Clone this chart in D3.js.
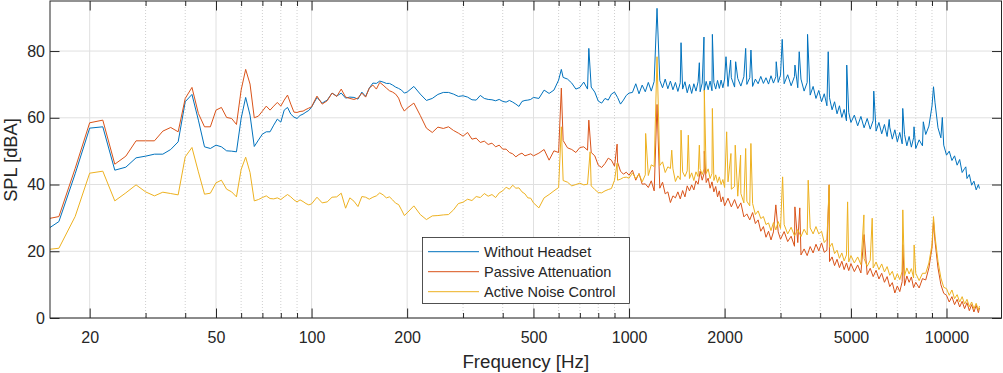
<!DOCTYPE html>
<html>
<head>
  <meta charset="utf-8">
  <title>SPL spectrum</title>
  <script src="https://cdn.jsdelivr.net/npm/d3@7"></script>
  <style>
    body { margin: 0; background: #fff; }
    text { font-family: "Liberation Sans", Arial, Helvetica, sans-serif; fill: #262626; }
  </style>
</head>
<body>
<div id="chart"></div>
<script>
  // frequency bins [Hz] (denser where the curves are busy)
  var freq = [
    14,16,18,20,22,24,26,28,30,32,34,36,38,40,42,44,46,48,50,52,54,56,58,60,62,64,66,68,70,72,74,76,78,80,82,84,86,88,90,92,94,96,98,100,
    104,108,112,116,120,124,128,132,136,140,144,148,152,156,160,164,168,172,176,180,184,188,192,196,200,
    210,220,230,240,250,260,270,280,290,300,310,320,330,340,350,360,370,380,390,400,410,420,430,440,450,460,470,480,490,500,
    520,540,560,580,600,620,640,660,680,700,720,740,760,780,800,820,840,860,880,900,920,940,960,980,1000,
    1025,1050,1075,1100,1125,1150,1175,1200,1225,1250,1275,1300,1325,1350,1375,1400,1425,1450,1475,1500,
    1525,1550,1575,1600,1625,1650,1675,1700,1725,1750,1775,1800,1825,1850,1875,1900,1925,1950,1975,2000,
    2050,2100,2150,2200,2250,2300,2350,2400,2450,2500,2550,2600,2650,2700,2750,2800,2850,2900,2950,3000,
    3080,3160,3240,3320,3400,3480,3560,3640,3720,3800,3880,3960,4040,4120,4200,4280,4360,4440,4520,4600,4680,4760,4840,4920,5000,
    5125,5250,5375,5500,5625,5750,5875,6000,6125,6250,6375,6500,6625,6750,6875,7000,7125,7250,7375,7500,7625,7750,7875,8000,
    8200,8400,8600,8800,9000,9200,9400,9600,9800,10000,10200,10400,10600,10800,11000,11200,11400,11600,11800,12000,12200,12400,12600,12700
  ];

  // SPL [dBA]
  var withoutHeadset = [
    25.2,28.9,43.2,56.9,57.3,44.3,45.2,48.0,48.5,49.1,49.1,50.5,52.8,64.8,67.0,59.3,51.3,50.8,51.8,51.3,50.1,50.0,49.8,59.8,66.1,60.8,51.4,53.3,55.1,55.8,55.8,57.8,59.6,58.7,62.3,63.1,61.1,60.2,59.8,60.7,61.1,61.7,62.2,63.2,
    66.1,64.4,65.3,67.4,66.5,67.4,65.9,66.2,66.1,65.6,67.7,66.4,68.9,70.4,70.3,71.0,70.7,70.3,70.3,69.8,69.2,68.8,68.3,67.4,67.7,
    69.4,67.1,65.2,65.8,67.0,67.6,67.6,67.1,66.4,66.6,66.2,65.4,65.3,66.7,65.8,65.5,65.4,65.1,65.5,64.9,64.7,65.2,64.7,64.1,63.4,64.9,65.2,65.3,65.5,66.1,
    65.8,68.3,67.3,68.3,71.3,72.1,71.6,70.4,68.6,69.1,70.7,68.6,69.2,67.7,65.0,64.4,65.8,65.3,67.1,67.7,66.1,64.1,65.3,66.7,67.4,
    67.6,70.2,67.2,69.8,67.8,70.6,68.0,70.9,68.6,71.2,69.0,71.6,68.7,71.0,68.4,70.6,67.9,70.5,68.6,70.8,
    67.5,70.0,67.3,70.2,68.0,70.8,67.8,70.4,68.2,70.9,68.4,71.0,68.1,70.6,68.6,71.2,68.8,71.3,69.0,71.6,
    69.4,72.0,69.2,71.8,69.5,72.3,70.0,72.0,69.4,71.6,70.2,72.4,70.3,72.0,70.1,72.6,70.4,72.3,70.6,72.8,
    70.2,72.9,69.6,72.4,69.0,71.6,68.0,70.6,66.8,69.4,65.8,68.2,64.8,67.2,63.6,66.0,62.4,64.8,61.2,63.6,60.1,62.5,59.1,61.6,58.6,
    60.8,57.6,60.4,57.0,59.8,56.6,59.2,56.0,58.6,55.2,58.0,54.4,57.2,53.6,56.4,52.8,55.6,52.2,55.0,51.6,54.4,51.2,54.0,50.8,
    53.4,51.6,55.0,57.5,63.5,64.5,57.0,54.0,51.8,48.8,50.0,47.2,48.6,45.8,47.0,43.6,44.8,41.8,43.0,39.8,41.0,38.4,40.0,38.8
  ];
  var passiveAttenuation = [
    29.3,30.4,44.8,58.5,59.3,46.1,48.5,53.1,53.1,53.1,56.0,57.1,55.8,65.8,69.1,61.3,57.3,57.3,62.3,63.1,60.1,59.8,58.0,68.3,74.5,70.1,60.0,60.5,62.0,63.5,62.3,63.5,64.6,63.5,65.3,66.8,64.1,61.7,61.6,61.9,62.0,62.5,62.9,63.3,
    66.5,64.1,65.1,67.4,66.4,68.6,66.2,65.8,65.5,65.9,67.4,66.2,68.9,69.8,68.6,70.6,69.8,68.9,68.1,67.7,67.1,65.9,63.5,62.0,62.9,
    64.4,60.7,56.9,55.6,57.2,56.8,57.3,56.2,55.4,54.5,55.6,53.6,53.9,52.6,53.0,52.0,52.4,51.3,51.8,50.6,50.6,49.6,49.2,48.3,49.0,49.4,48.6,48.9,49.2,48.6,
    49.4,50.5,47.3,50.1,49.6,53.2,51.0,50.5,49.6,51.1,51.3,50.3,49.6,48.6,45.8,45.1,46.3,47.9,47.3,45.5,46.7,44.0,43.1,43.7,42.8,
    44.3,41.3,43.3,40.1,40.2,39.1,41.1,38.1,40.8,38.9,40.7,37.2,37.8,34.6,36.6,36.0,37.8,35.7,38.2,36.3,
    39.6,38.1,39.9,38.4,41.1,40.1,44.0,41.3,43.4,40.6,41.9,38.9,40.8,37.8,39.4,36.3,38.1,34.8,36.3,33.6,
    35.9,33.3,35.5,32.8,34.5,30.3,31.2,29.4,31.6,28.3,29.4,26.0,27.4,24.2,26.0,23.4,25.8,23.3,25.8,23.6,
    25.9,22.9,24.5,21.5,22.6,18.9,20.7,18.7,21.4,19.5,22.1,20.1,22.5,19.7,20.3,16.9,18.3,15.7,17.6,15.1,17.0,14.5,16.5,14.2,16.3,
    13.9,15.9,13.5,15.5,13.0,14.9,12.4,14.3,11.7,13.4,10.7,12.4,9.4,10.6,7.5,9.6,7.9,10.9,9.7,12.6,10.7,12.3,9.1,10.7,
    9.0,11.8,11.4,15.0,21.0,23.0,15.0,10.0,7.4,6.8,4.8,6.4,4.0,5.6,3.3,5.0,2.8,4.6,2.2,4.0,1.8,3.8,1.6,3.0
  ];
  var activeNoiseControl = [
    20.3,20.9,30.4,43.4,44.0,35.1,37.5,39.9,37.8,36.6,37.7,37.3,36.9,48.3,51.1,43.8,37.1,37.4,40.5,41.3,38.6,37.8,36.3,44.5,48.2,43.6,35.1,35.5,36.1,36.6,35.8,35.7,36.0,35.5,36.3,37.0,36.3,35.4,34.8,35.4,34.9,34.3,33.9,34.2,
    36.2,34.5,34.8,36.2,36.3,37.4,32.9,36.0,35.0,33.4,36.4,36.2,35.6,36.2,36.6,37.5,36.9,36.0,36.3,35.4,34.4,34.0,32.4,30.7,31.5,
    33.6,31.0,29.5,30.6,30.7,30.9,31.0,32.4,34.3,34.7,35.6,35.2,36.4,36.1,37.3,36.5,37.0,36.1,37.5,38.1,39.2,38.6,39.8,38.9,39.0,37.8,37.2,36.0,35.9,34.5,
    33.0,36.0,37.0,38.1,39.1,41.2,40.7,39.6,40.0,40.4,39.9,40.1,39.6,38.5,37.6,37.5,38.1,38.5,38.8,41.3,41.3,41.6,42.1,42.2,41.9,
    43.5,41.7,43.2,40.8,42.9,42.7,45.9,45.4,47.5,45.7,46.8,43.6,45.3,44.8,44.7,40.9,42.6,41.5,43.8,42.4,
    44.1,41.8,43.5,41.2,43.8,42.4,44.7,43.0,44.7,43.3,44.7,41.8,43.3,41.2,42.9,40.6,42.3,40.0,41.5,39.1,
    40.8,38.6,39.4,36.5,37.3,34.5,35.0,33.6,34.3,31.0,32.1,29.8,30.4,28.0,28.5,26.2,28.6,26.4,28.9,26.8,
    28.0,25.2,27.2,24.6,26.5,24.4,26.6,24.9,27.0,25.2,27.4,25.2,26.0,22.6,23.6,21.2,22.4,19.3,20.3,17.9,19.5,17.1,18.9,16.8,18.7,
    16.5,18.3,16.0,17.8,15.5,17.3,15.0,16.8,14.5,16.2,13.8,15.4,12.8,14.0,11.4,13.3,11.5,14.0,12.6,15.0,13.2,14.8,12.0,13.4,
    11.2,13.4,13.4,16.5,22.0,24.5,17.0,12.0,9.2,8.8,6.8,8.4,5.8,7.0,4.8,6.4,4.2,5.6,3.4,4.8,2.8,4.4,2.4,3.6
  ];

  // narrow tonal peaks [Hz, dBA]
  var peaksWithout = [[612,74.5],[747,80.8],[1225,92.8],[1458,82.5],[1665,76.5],[1722,84.2],[1830,85.0],[2020,78.3],
    [2089,77.3],[2167,76.8],[2330,80.8],[2421,80.3],[2908,76.8],[3037,83.5],[3331,75.8],[3436,79.8],[3650,85.0],
    [4240,79.8],[4850,75.8],[5900,68.0],[6600,59.5],[7280,62.8],[7900,57.3],[8450,58.8],[9100,69.3],[9700,60.1],
    [11000,47.5],[11500,45.3]];
  var peaksPassive = [[612,68.9],[747,59.3],[917,52.1],[1225,64.0],[1726,50.0],[2900,33.9],[3330,33.3],[3450,33.0],
    [4270,39.9],[5500,25.0],[7280,22.0],[9100,28.9]];
  var peaksActive = [[612,57.3],[754,49.8],[917,46.4],[1128,55.3],[1225,78.3],[1363,50.3],[1458,56.3],[1537,54.8],
    [1665,51.8],[1726,68.3],[1830,62.8],[2030,55.8],[2094,49.3],[2160,51.8],[2246,48.8],[2330,50.8],[2420,52.3],
    [3046,42.3],[3667,41.3],[4271,39.9],[4880,34.8],[5493,30.9],[5833,29.9],[7283,32.4],[7907,21.9],[9100,30.4]];

  var seriesNames = ["Without Headset", "Passive Attenuation", "Active Noise Control"];
  var seriesColors = ["#0072BD", "#D95319", "#EDB120"];

  var xTicks = [20, 50, 100, 200, 500, 1000, 2000, 5000, 10000];
  var xMinorTicks = [30, 40, 60, 70, 80, 90, 300, 400, 600, 700, 800, 900, 3000, 4000, 6000, 7000, 8000, 9000];
  var yTicks = [0, 20, 40, 60, 80];

  var W = 1003, H = 373;
  var L = 50, R = 1001.5, T = 1, B = 318;

  var svg = d3.select("#chart").append("svg").attr("width", W).attr("height", H);

  var x = d3.scaleLog().domain([15, 14900]).range([L, R]);
  var y = d3.scaleLinear().domain([0, 95]).range([B, T]);

  function merge(values, peaks) {
    var m = new Map();
    freq.forEach(function(f, i) { m.set(f, values[i]); });
    peaks.forEach(function(p) { m.set(p[0], p[1]); });
    return Array.from(m.entries()).sort(function(a, b) { return a[0] - b[0]; });
  }
  var series = [merge(withoutHeadset, peaksWithout), merge(passiveAttenuation, peaksPassive), merge(activeNoiseControl, peaksActive)];

  // grid
  var grid = svg.append("g");
  grid.selectAll(".gminor").data(xMinorTicks).enter().append("line")
    .attr("x1", function(d){ return x(d); }).attr("x2", function(d){ return x(d); })
    .attr("y1", T).attr("y2", B)
    .attr("stroke", "#cfcfcf").attr("stroke-dasharray", "1,2");
  grid.selectAll(".gx").data(xTicks).enter().append("line")
    .attr("x1", function(d){ return x(d); }).attr("x2", function(d){ return x(d); })
    .attr("y1", T).attr("y2", B)
    .attr("stroke", "#e0e0e0");
  grid.selectAll(".gy").data(yTicks).enter().append("line")
    .attr("x1", L).attr("x2", R)
    .attr("y1", function(d){ return y(d); }).attr("y2", function(d){ return y(d); })
    .attr("stroke", "#e0e0e0");

  // data
  svg.append("clipPath").attr("id", "plotclip").append("rect")
    .attr("x", L).attr("y", T).attr("width", R - L).attr("height", B - T);

  var line = d3.line().x(function(d){ return x(d[0]); }).y(function(d){ return y(d[1]); });

  svg.append("g").attr("clip-path", "url(#plotclip)")
    .selectAll("path").data(series).enter().append("path")
    .attr("d", line)
    .attr("fill", "none")
    .attr("stroke", function(d, i){ return seriesColors[i]; })
    .attr("stroke-width", 1)
    .attr("stroke-linejoin", "round");

  // axes
  function styleAxis(g, fontSize) {
    g.select(".domain").remove();
    g.attr("font-family", null).attr("font-size", null);
    g.selectAll(".tick line").attr("stroke", "#262626");
    g.selectAll(".tick text").style("font-size", fontSize + "px");
  }
  var fmt = d3.format("d");

  svg.append("g").attr("transform", "translate(0," + B + ")")
    .call(d3.axisBottom(x).tickValues(xTicks).tickFormat(fmt).tickSizeInner(-9.5).tickSizeOuter(0).tickPadding(14))
    .call(styleAxis, 16);
  svg.append("g").attr("transform", "translate(0," + B + ")")
    .call(d3.axisBottom(x).tickValues(xMinorTicks).tickFormat("").tickSizeInner(-5).tickSizeOuter(0))
    .call(styleAxis, 16);
  svg.append("g").attr("transform", "translate(0," + T + ")")
    .call(d3.axisTop(x).tickValues(xTicks).tickFormat("").tickSizeInner(-9.5).tickSizeOuter(0))
    .call(styleAxis, 16);
  svg.append("g").attr("transform", "translate(0," + T + ")")
    .call(d3.axisTop(x).tickValues(xMinorTicks).tickFormat("").tickSizeInner(-5).tickSizeOuter(0))
    .call(styleAxis, 16);
  svg.append("g").attr("transform", "translate(" + L + ",0)")
    .call(d3.axisLeft(y).tickValues(yTicks).tickSizeInner(-9.5).tickSizeOuter(0).tickPadding(5))
    .call(styleAxis, 16);
  svg.append("g").attr("transform", "translate(" + R + ",0)")
    .call(d3.axisRight(y).tickValues(yTicks).tickFormat("").tickSizeInner(-9.5).tickSizeOuter(0))
    .call(styleAxis, 16);

  svg.append("rect")
    .attr("x", L).attr("y", T).attr("width", R - L).attr("height", B - T)
    .attr("fill", "none").attr("stroke", "#262626").attr("stroke-width", 1);

  // labels
  svg.append("text")
    .attr("x", (L + R) / 2).attr("y", 368)
    .attr("text-anchor", "middle").style("font-size", "18.7px")
    .text("Frequency [Hz]");
  svg.append("text")
    .attr("transform", "translate(16.5,160) rotate(-90)")
    .attr("text-anchor", "middle").style("font-size", "18.3px")
    .text("SPL [dBA]");

  // legend
  var legend = svg.append("g");
  legend.append("rect")
    .attr("x", 422.5).attr("y", 237.5).attr("width", 207).attr("height", 66)
    .attr("fill", "#fff").attr("stroke", "#262626").attr("stroke-width", 0.8);
  seriesNames.forEach(function(name, i) {
    var ly = 251.7 + i * 20;
    legend.append("line")
      .attr("x1", 428).attr("x2", 479).attr("y1", ly).attr("y2", ly)
      .attr("stroke", seriesColors[i]).attr("stroke-width", 1);
    legend.append("text")
      .attr("x", 484).attr("y", ly).attr("dy", "0.35em")
      .style("font-size", "14.5px")
      .text(name);
  });
</script>
</body>
</html>
